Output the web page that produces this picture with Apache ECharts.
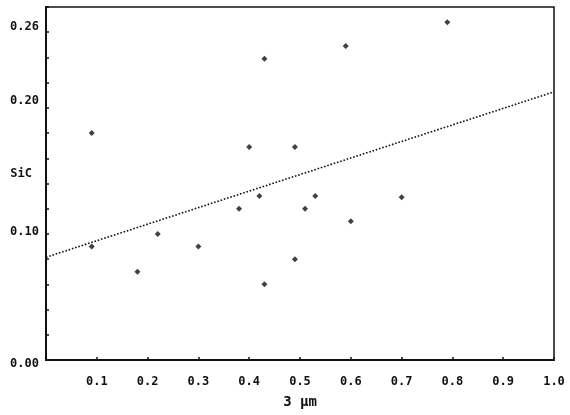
<!DOCTYPE html>
<html>
<head>
<meta charset="utf-8">
<script src="https://cdn.jsdelivr.net/npm/echarts@6/dist/echarts.min.js"></script>
<style>
html,body{margin:0;padding:0;background:#fff;}
#chart{width:570px;height:415px;}
</style>
</head>
<body>
<div id="chart"></div>
<script>
// Data
var xValues = [0.09, 0.09, 0.18, 0.22, 0.30, 0.38, 0.42, 0.43, 0.43, 0.40, 0.49, 0.49, 0.51, 0.53, 0.59, 0.60, 0.70, 0.79];
var yValues = [0.180, 0.090, 0.070, 0.100, 0.090, 0.120, 0.130, 0.239, 0.060, 0.169, 0.169, 0.080, 0.120, 0.130, 0.249, 0.110, 0.129, 0.268];
var trendX = [0.0, 1.0];
var trendY = [0.0815, 0.2127];
var yTickLabels = ['0.00', '0.10', '0.20', '0.26'];
var xTickLabels = ['0.1', '0.2', '0.3', '0.4', '0.5', '0.6', '0.7', '0.8', '0.9', '1.0'];
var xAxisName = '3 µm';
var yAxisName = 'SiC';

var points = xValues.map(function (x, i) { return [x, yValues[i]]; });
var trend = trendX.map(function (x, i) { return [x, trendY[i]]; });

var fontMono = '"DejaVu Sans Mono", "Liberation Mono", monospace';
var ink = '#111111';
var labelBase = {fontFamily: fontMono, fontWeight: 'bold', fontSize: 12, color: ink};
// the old plotter printed some y labels slightly off their ticks
var yLabelRich = {
  up10: Object.assign({padding: [0, 0, 10, 0]}, labelBase),
  up14: Object.assign({padding: [0, 0, 14, 0]}, labelBase),
  up4: Object.assign({padding: [0, 0, 4, 0]}, labelBase),
  dn8: Object.assign({padding: [8, 0, 0, 0]}, labelBase)
};
var yLabelStyleKey = {'0.26': 'up10', '0.20': 'up14', '0.10': 'up4', '0.00': 'dn8'};

var chart = echarts.init(document.getElementById('chart'), null, {renderer: 'canvas'});
chart.setOption({
  backgroundColor: '#ffffff',
  animation: false,
  grid: {
    left: 46, right: 16, top: 7, bottom: 55,
    containLabel: false, outerBoundsMode: 'none',
    show: true, borderColor: ink, borderWidth: 1.5, backgroundColor: 'transparent'
  },
  xAxis: {
    type: 'value', min: 0, max: 1, interval: 0.1,
    name: xAxisName, nameLocation: 'middle', nameGap: 35, nameMoveOverlap: false,
    nameTextStyle: {fontFamily: fontMono, fontWeight: 'bold', fontSize: 14, color: ink},
    axisLine: {show: true, lineStyle: {color: ink, width: 2}},
    axisTick: {show: true, inside: true, length: 3, lineStyle: {color: ink, width: 1.5}},
    splitLine: {show: false},
    axisLabel: Object.assign({
      margin: 16,
      formatter: function (v) {
        var s = v.toFixed(1);
        return xTickLabels.indexOf(s) >= 0 ? s : '';
      }
    }, labelBase)
  },
  yAxis: {
    type: 'value', min: 0, max: 0.28, interval: 0.02,
    name: yAxisName, nameLocation: 'middle', nameRotate: 0, nameGap: 14, nameMoveOverlap: false,
    nameTextStyle: {fontFamily: fontMono, fontWeight: 'bold', fontSize: 12, color: ink, verticalAlign: 'bottom', padding: [0, 0, 4, 0]},
    axisLine: {show: true, lineStyle: {color: ink, width: 2}},
    axisTick: {show: true, inside: true, length: 3, lineStyle: {color: ink, width: 1.5}},
    splitLine: {show: false},
    axisLabel: Object.assign({
      margin: 7,
      rich: yLabelRich,
      formatter: function (v) {
        var s = (Math.round(v * 100) / 100).toFixed(2);
        if (yTickLabels.indexOf(s) < 0) return '';
        return '{' + yLabelStyleKey[s] + '|' + s + '}';
      }
    }, labelBase)
  },
  series: [
    {
      type: 'line', data: trend, symbol: 'none', silent: true,
      lineStyle: {color: ink, width: 1.6, type: [1.6, 1.8]}
    },
    {
      type: 'scatter', data: points, symbol: 'diamond', symbolSize: 6,
      itemStyle: {color: ink}
    }
  ]
});
</script>
</body>
</html>
